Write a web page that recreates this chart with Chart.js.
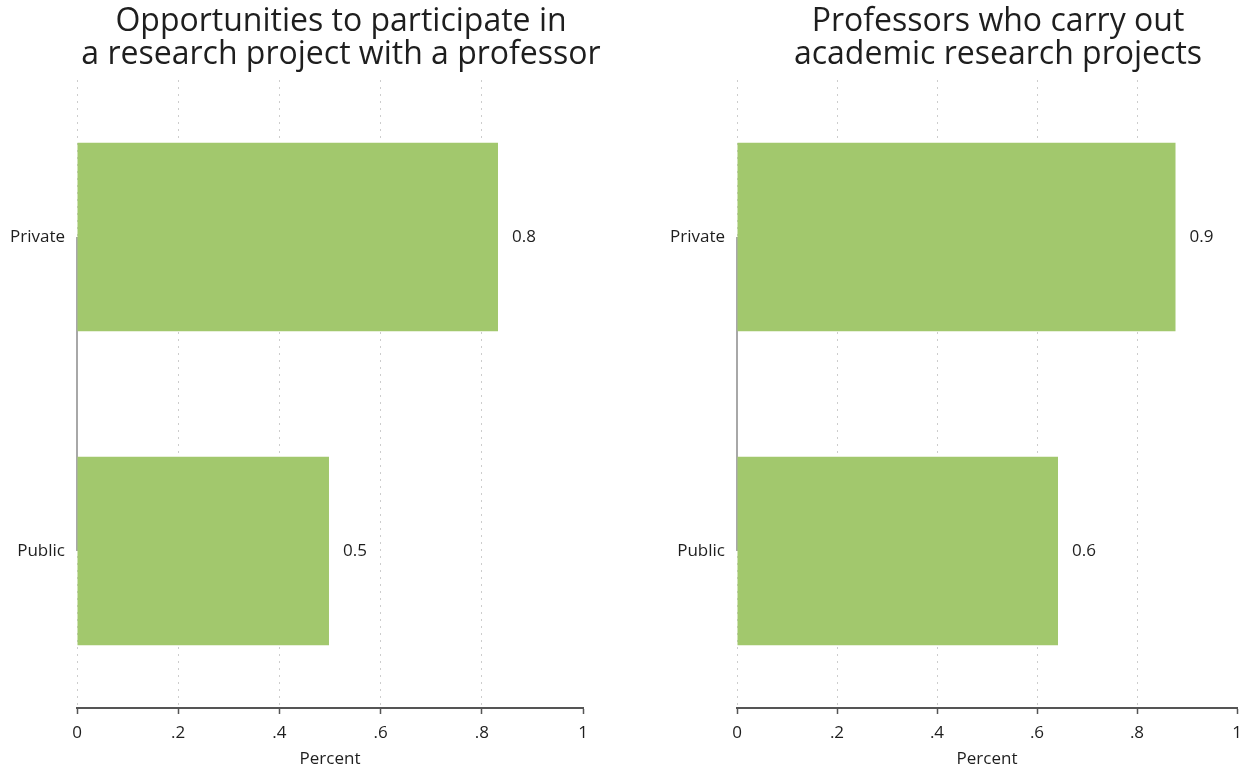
<!DOCTYPE html>
<html><head><meta charset="utf-8">
<script src="https://cdn.jsdelivr.net/npm/chart.js@4"></script>
<style>
html,body{margin:0;padding:0;background:#fff;}
#wrap{position:relative;width:1247px;height:769px;overflow:hidden;}
.panel{position:absolute;top:0;height:769px;}
#p1{left:0;width:660px;}
#p2{left:660px;width:587px;}
</style></head><body>
<div id="wrap">
  <div class="panel" id="p1"><canvas id="c1" width="660" height="769"></canvas></div>
  <div class="panel" id="p2"><canvas id="c2" width="587" height="769"></canvas></div>
</div>
<script>
const categories = ["Private", "Public"];
const titleLeft = ["Opportunities to participate in", "a research project with a professor"];
const titleRight = ["Professors who carry out", "academic research projects"];
const valuesLeft = [0.832, 0.498];
const valuesRight = [0.877, 0.642];
const xTicks = [0, 0.2, 0.4, 0.6, 0.8, 1];
const xTickLabels = ["0", ".2", ".4", ".6", ".8", "1"];
const xTitle = "Percent";

const FONT = "'Open Sans', 'Noto Sans', sans-serif";
const BAR = "#a2c86d";
const TEXT = "#1e1e1e";
const SMALL = 17;

const panelTitle = {
  id: 'panelTitle',
  afterDraw(chart, args, opts) {
    const ctx = chart.ctx;
    const ca = chart.chartArea;
    ctx.save();
    ctx.fillStyle = TEXT;
    ctx.font = opts.size + "px " + FONT;
    ctx.textAlign = 'center';
    ctx.textBaseline = 'middle';
    const cx = (ca.left + ca.right) / 2 + opts.offset;
    opts.lines.forEach((t, i) => ctx.fillText(t, cx, opts.top + i * opts.gap));
    ctx.restore();
  }
};

const yConnector = {
  id: 'yConnector',
  beforeDatasetsDraw(chart) {
    const y = chart.scales.y;
    const ctx = chart.ctx;
    const x = chart.chartArea.left;
    ctx.save();
    ctx.strokeStyle = '#a8a8a8';
    ctx.lineWidth = 2;
    ctx.beginPath();
    ctx.moveTo(x, y.getPixelForValue(0));
    ctx.lineTo(x, y.getPixelForValue(categories.length - 1));
    ctx.stroke();
    ctx.restore();
  }
};

const valueLabels = {
  id: 'valueLabels',
  afterDatasetsDraw(chart) {
    const ctx = chart.ctx;
    const meta = chart.getDatasetMeta(0);
    const data = chart.data.datasets[0].data;
    ctx.save();
    ctx.fillStyle = TEXT;
    ctx.font = SMALL + "px " + FONT;
    ctx.textAlign = 'left';
    ctx.textBaseline = 'middle';
    meta.data.forEach((bar, i) => {
      ctx.fillText(data[i].toFixed(1), bar.x + 14, bar.y);
    });
    ctx.restore();
  }
};

function makeChart(id, values, titleLines, padRight) {
  return new Chart(document.getElementById(id), {
    type: 'bar',
    data: {
      labels: categories,
      datasets: [{
        data: values,
        backgroundColor: BAR,
        borderWidth: 0,
        barPercentage: 0.6,
        categoryPercentage: 1.0
      }]
    },
    options: {
      indexAxis: 'y',
      responsive: false,
      animation: false,
      devicePixelRatio: 1,
      layout: { padding: { top: 80, right: padRight, bottom: 0, left: 0 } },
      plugins: {
        legend: { display: false },
        tooltip: { enabled: false },
        title: { display: false },
        panelTitle: { lines: titleLines, size: 32, top: 22, gap: 33, offset: 11 }
      },
      scales: {
        x: {
          min: 0, max: 1,
          afterBuildTicks: s => { s.ticks = xTicks.map(v => ({ value: v })); },
          afterFit: s => { s.height = 61; s.paddingRight = 0; },
          ticks: {
            callback: (v, i) => xTickLabels[i],
            color: TEXT,
            font: { family: FONT, size: SMALL },
            padding: 9,
            maxRotation: 0
          },
          grid: {
            color: c => (c.tick && c.tick.value === 1) ? 'rgba(0,0,0,0)' : '#cdcdcd',
            lineWidth: 1,
            drawTicks: true,
            tickLength: 6,
            tickColor: '#555',
            tickWidth: 1.5,
            tickBorderDash: [1, 0]
          },
          border: { display: true, color: '#555', width: 2, dash: [2, 5] },
          title: {
            display: true, text: xTitle, color: TEXT,
            font: { family: FONT, size: SMALL },
            padding: { top: 0, bottom: 0 }
          }
        },
        y: {
          afterFit: s => { s.width = 77; },
          grid: { display: false, drawTicks: false },
          border: { display: false },
          ticks: {
            color: TEXT,
            font: { family: FONT, size: SMALL },
            padding: 12
          }
        }
      }
    },
    plugins: [panelTitle, yConnector, valueLabels]
  });
}

makeChart('c1', valuesLeft, titleLeft, 77);
makeChart('c2', valuesRight, titleRight, 10);
</script>
</body></html>
